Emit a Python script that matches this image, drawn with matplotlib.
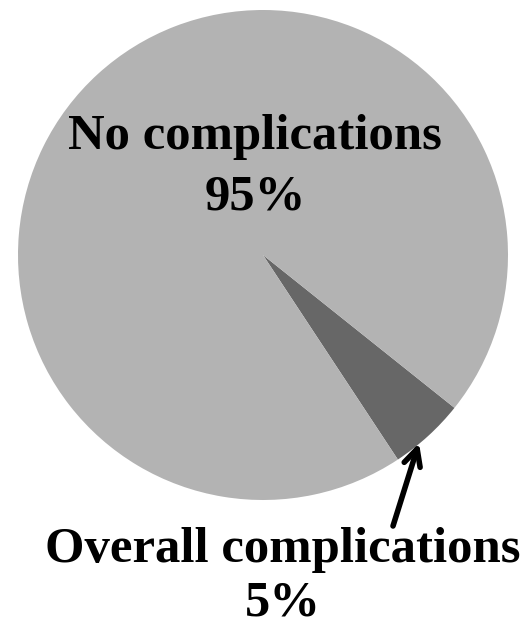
import matplotlib.pyplot as plt

labels = ["Overall complications", "No complications"]
values = [5, 95]
colors = ["#676767", "#b3b3b3"]

plt.rcParams["font.family"] = ["Liberation Serif", "DejaVu Serif"]

fig = plt.figure(figsize=(5.31, 6.30), dpi=100)
ax = fig.add_axes([0, 0, 1, 1])

# pie drawn in pixel-like coords (y up)
ax.pie(values, colors=colors, startangle=-56.6, counterclock=True,
       center=(263, 375), radius=245, wedgeprops=dict(linewidth=0))
ax.set_xlim(0, 531)
ax.set_ylim(0, 630)
ax.set_aspect("equal")
ax.axis("off")

fs = 36.5
ax.text(255, 481, labels[1], ha="center", va="baseline", fontsize=fs, fontweight="bold")
ax.text(255, 420, f"{values[1]}%", ha="center", va="baseline", fontsize=fs, fontweight="bold")
ax.text(283, 68, labels[0], ha="center", va="baseline", fontsize=fs, fontweight="bold")
ax.text(283, 14, f"{values[0]}%", ha="center", va="baseline", fontsize=fs, fontweight="bold")

ax.annotate("", xy=(419, 187), xytext=(393, 104),
            arrowprops=dict(arrowstyle="->", lw=4, color="black",
                            mutation_scale=30, shrinkA=0, shrinkB=0))

fig.savefig("out.png", dpi=100)
